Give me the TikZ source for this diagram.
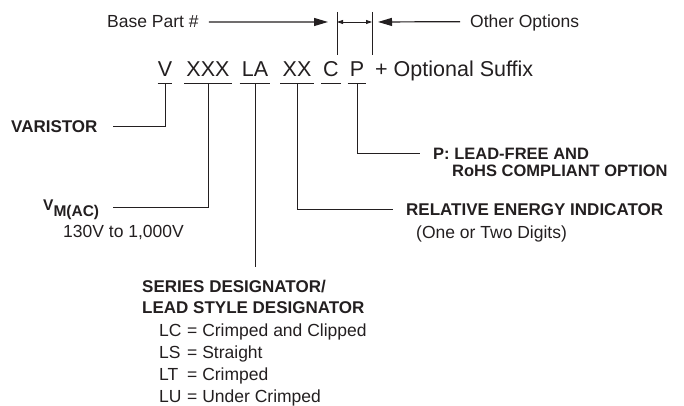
\documentclass[tikz,border=0pt]{standalone}
\usepackage{fontspec}
\setmainfont{Liberation Sans}
\usetikzlibrary{arrows.meta}
\definecolor{cInk}{RGB}{35,31,32}

\begin{document}
\begin{tikzpicture}[x=1pt, y=-1pt,
    codepart/.style={anchor=base, inner ysep=0pt, inner xsep=2pt, text depth=6pt,
        text=cInk, font=\fontsize{21.5}{24}\selectfont},
    lbl/.style={anchor=base west, inner sep=0pt, text depth=0pt, text=cInk,
        font=\fontsize{17.5}{20}\selectfont},
    blbl/.style={lbl, font=\fontsize{17}{20}\selectfont\bfseries},
    leader/.style={draw=cInk, line width=1pt},
    uline/.style={draw=cInk, line width=1.2pt},
    bigarrow/.style={draw=cInk, line width=1.2pt, -{Triangle[length=14pt,width=8pt]}},
    smallarrow/.style={draw=cInk, line width=0.8pt,
        {Triangle[length=6pt,width=4pt]}-{Triangle[length=6pt,width=4pt]}}]

    \useasboundingbox (0,0) rectangle (684,406);

    % --- Part number ---
    \node[codepart, inner xsep=0pt] (v) at (165,77) {V};
    \node[codepart] (xxx) at (208,77) {XXX};
    \node[codepart] (la)  at (255,77) {LA};
    \node[codepart] (xx)  at (297,77) {XX};
    \node[codepart] (c)   at (331,77) {C};
    \node[codepart] (p)   at (357,77) {P};
    \node[lbl, font=\fontsize{21.5}{24}\selectfont] (suffix) at (375,77) {+ Optional Suffix};

    % underlines
    \foreach \part in {v, xxx, la, xx, c, p}
        \draw[uline] (\part.south west) -- (\part.south east);

    % --- Base part / other options ---
    \node[lbl] (basepart) at (107,28) {Base Part \#};
    \node[lbl] (otheropt) at (470,28) {Other Options};
    \coordinate (divl) at (337,22);
    \coordinate (divr) at (372,22);
    \draw[leader] (337,12) -- (337,55);
    \draw[leader] (372,12) -- (372,55);
    \draw[bigarrow, shorten <=10pt, shorten >=9pt] (basepart.east) -- (divl);
    \draw[bigarrow, shorten <=10pt, shorten >=6pt] (otheropt.west) -- (divr);
    \draw[smallarrow] (divl) -- (divr);

    % --- Left labels ---
    \node[blbl] (varistor) at (11,132) {VARISTOR};
    \node[lbl, text depth=6pt, font=\fontsize{15.5}{18}\selectfont\bfseries] (vm) at (43,210)
        {V\raisebox{-6pt}{M(AC)}};
    \node[lbl] (vrange) at (63,237) {130V to 1,000V};
    \draw[leader, shorten >=15pt] (v.south) |- (varistor.east);
    \draw[leader, shorten >=14pt] (xxx.south) |- (vm.east);

    % --- Right labels ---
    \node[blbl, font=\fontsize{16.5}{19}\selectfont\bfseries] (pfree) at (433,159) {P: LEAD-FREE AND};
    \node[blbl, font=\fontsize{16.5}{19}\selectfont\bfseries] (rohs)  at (452,176) {RoHS COMPLIANT OPTION};
    \node[blbl] (relative) at (406,215) {RELATIVE ENERGY INDICATOR};
    \node[lbl] (digits) at (416,238) {(One or Two Digits)};
    \draw[leader, shorten >=13pt] (p.south) |- (pfree.west);
    \draw[leader, shorten >=13pt] (xx.south) |- (relative.west);

    % --- Series / lead style ---
    \node[blbl] (series) at (142,292) {SERIES DESIGNATOR/};
    \node[blbl] (leadstyle) at (142,313) {LEAD STYLE DESIGNATOR};
    \draw[leader, shorten >=12.5pt] (la.south) -- (la.south |- series.north);
    \foreach \code/\desc [count=\i] in {LC/Crimped and Clipped, LS/Straight,
            LT/Crimped, LU/Under Crimped} {
        \node[lbl, font=\fontsize{17.5}{20}\selectfont] (code\i) at (159,{314+22*\i}) {\code};
        \node[lbl, font=\fontsize{17.5}{20}\selectfont] (desc\i) at (187,{314+22*\i}) {= \desc};
    }

\end{tikzpicture}
\end{document}
